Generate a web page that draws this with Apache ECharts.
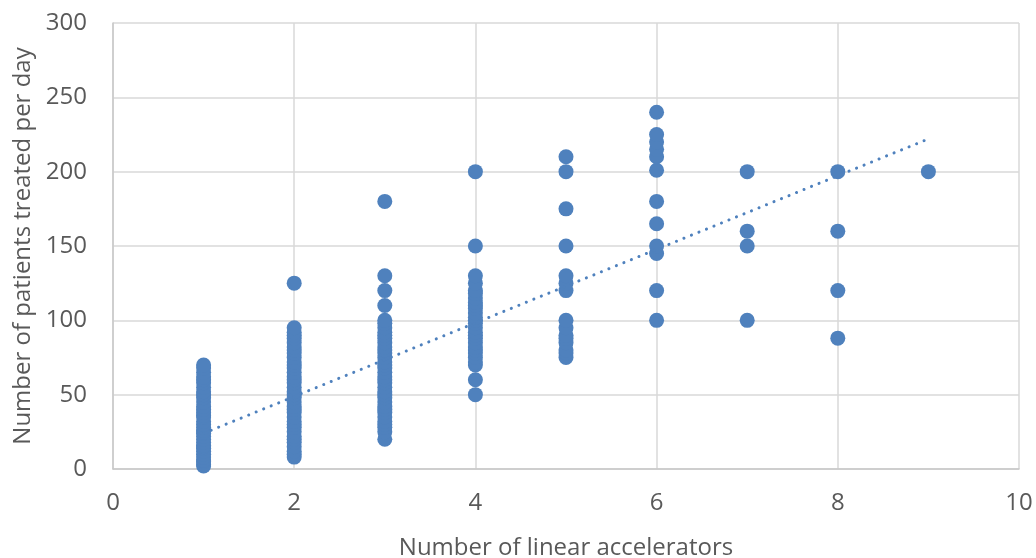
<!DOCTYPE html>
<html>
<head>
<meta charset="utf-8">
<script src="https://cdn.jsdelivr.net/npm/echarts@6/dist/echarts.min.js"></script>
<style>
html,body{margin:0;padding:0;background:#fff;}
#chart{width:1036px;height:558px;}
</style>
</head>
<body>
<div id="chart"></div>
<script>
// Patients treated per day, grouped by number of linear accelerators
const linacs1 = [2, 3, 5, 6, 8, 10, 12, 14, 15, 16, 18, 20, 22, 24, 25, 26, 28, 30, 32, 35, 36, 38, 40, 42, 45, 48, 50, 52, 55, 58, 60, 62, 65, 68, 70];
const linacs2 = [8, 10, 12, 15, 18, 20, 22, 25, 28, 30, 32, 35, 38, 40, 42, 45, 48, 50, 52, 55, 58, 60, 62, 65, 68, 70, 72, 75, 78, 80, 82, 85, 88, 90, 92, 95, 125];
const linacs3 = [20, 25, 28, 30, 32, 35, 38, 40, 42, 45, 48, 50, 52, 55, 58, 60, 62, 65, 68, 70, 72, 75, 78, 80, 82, 85, 88, 90, 92, 95, 98, 100, 110, 120, 130, 180];
const linacs4 = [50, 60, 70, 72, 75, 78, 80, 82, 85, 88, 90, 92, 95, 98, 100, 102, 105, 108, 110, 112, 115, 118, 120, 125, 130, 150, 200];
const linacs5 = [75, 78, 80, 85, 88, 90, 95, 100, 120, 125, 130, 150, 175, 200, 210];
const linacs6 = [100, 120, 145, 150, 165, 180, 201, 210, 215, 220, 225, 240];
const linacs7 = [100, 150, 160, 200];
const linacs8 = [88, 120, 160, 200];
const linacs9 = [200];

// Linear trendline endpoints
const trendX = [1, 9];
const trendY = [24, 222];

const xTicks = [0, 2, 4, 6, 8, 10];
const yTicks = [0, 50, 100, 150, 200, 250, 300];

const groups = [linacs1, linacs2, linacs3, linacs4, linacs5, linacs6, linacs7, linacs8, linacs9];
const points = [];
groups.forEach((vals, i) => vals.forEach(v => points.push([i + 1, v])));
const trend = trendX.map((x, i) => [x, trendY[i]]);

const blue = '#4f81bd';
const textColor = '#595959';
const font = '"Open Sans", "DejaVu Sans", sans-serif';

const chart = echarts.init(document.getElementById('chart'));
chart.setOption({
  animation: false,
  backgroundColor: '#ffffff',
  grid: { left: 113, right: 17, top: 23, bottom: 89, containLabel: false, outerBoundsMode: 'none' },
  xAxis: {
    type: 'value',
    min: xTicks[0], max: xTicks[xTicks.length - 1], interval: 2,
    name: 'Number of linear accelerators',
    nameLocation: 'middle', nameGap: 67,
    nameTextStyle: { color: textColor, fontSize: 24, fontFamily: font },
    axisLine: { show: true, lineStyle: { color: '#c8c8c8', width: 1.5 } },
    axisTick: { show: false },
    axisLabel: { color: textColor, fontSize: 24, fontFamily: font, margin: 22 },
    splitLine: { show: true, lineStyle: { color: '#d9d9d9', width: 1.5 } }
  },
  yAxis: {
    type: 'value',
    min: yTicks[0], max: yTicks[yTicks.length - 1], interval: 50,
    name: 'Number of patients treated per day',
    nameLocation: 'middle', nameGap: 77,
    nameTextStyle: { color: textColor, fontSize: 24, fontFamily: font },
    axisLine: { show: true, lineStyle: { color: '#c8c8c8', width: 1.5 } },
    axisTick: { show: false },
    axisLabel: { color: textColor, fontSize: 24, fontFamily: font, margin: 26 },
    splitLine: { show: true, lineStyle: { color: '#d9d9d9', width: 1.5 } }
  },
  series: [
    {
      type: 'scatter',
      data: points,
      symbol: 'circle',
      symbolSize: 15,
      itemStyle: { color: blue, opacity: 1 },
      z: 3
    },
    {
      type: 'line',
      data: trend,
      symbol: 'none',
      lineStyle: { color: blue, width: 3, type: [0.1, 8], cap: 'round' },
      z: 4
    }
  ]
});
</script>
</body>
</html>
